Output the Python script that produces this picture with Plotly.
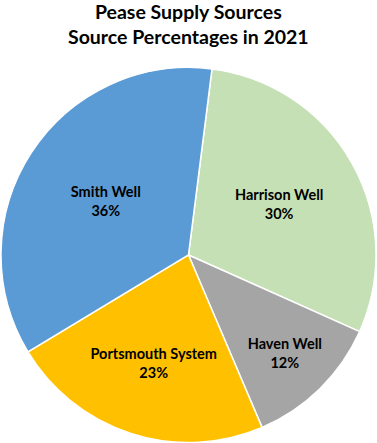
import plotly.graph_objects as go

labels = ["Harrison Well", "Haven Well", "Portsmouth System", "Smith Well"]
values = [30, 12, 23, 36]
pct_text = ["30%", "12%", "23%", "36%"]
colors = ["#C5E0B4", "#A5A5A5", "#FFC000", "#5B9BD5"]
title_lines = ["Pease Supply Sources", "Source Percentages in 2021"]

fig = go.Figure(go.Pie(
    labels=labels, values=values, text=pct_text,
    sort=False, direction="clockwise", rotation=7.2,
    marker=dict(colors=colors, line=dict(color="white", width=1.5)),
    texttemplate="<b>%{label}</b><br><b>%{text}</b>",
    textposition="inside", insidetextorientation="horizontal",
    textfont=dict(family="Lato", size=14.5, color="black"),
    domain=dict(x=[0.0, 1.0], y=[0.0, 0.849]),
    hoverinfo="label+percent",
))
fig.update_layout(
    width=377, height=443,
    margin=dict(l=1, r=1, t=0, b=0),
    showlegend=False,
    paper_bgcolor="white",
    annotations=[dict(
        text="<b>" + "<br>".join(title_lines) + "</b>",
        xref="paper", yref="paper", x=0.5, y=1.0,
        xanchor="center", yanchor="top", showarrow=False,
        borderpad=0, borderwidth=0,
        font=dict(family="Lato", size=19.5, color="black"),
    )],
)
fig.write_html("out.html", config={"displayModeBar": False},
               post_script="document.body.style.margin='0';document.body.style.overflow='hidden';")
